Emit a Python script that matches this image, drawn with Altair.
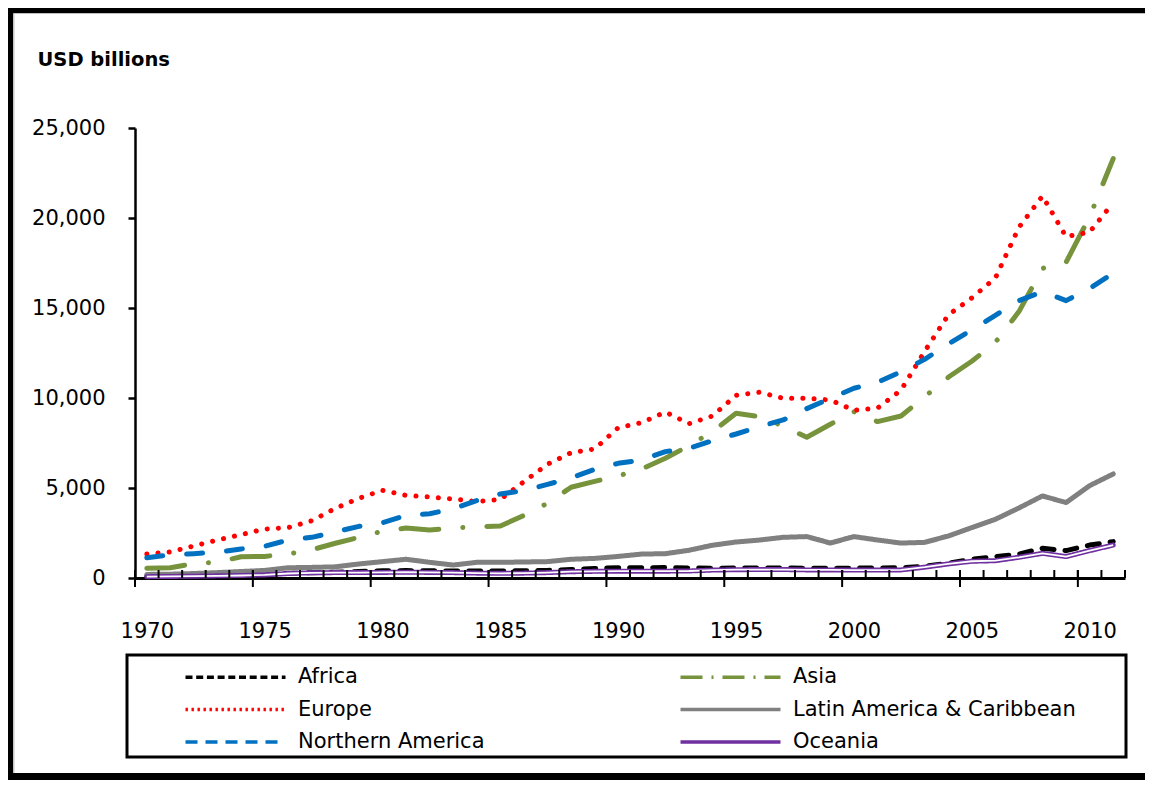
import altair as alt
import pandas as pd

years = list(range(1970, 2012))

africa = [100, 110, 130, 160, 200, 230, 260, 290, 320, 360, 400, 410, 400, 390, 390, 390,
          400, 420, 470, 530, 570, 570, 580, 560, 540, 560, 560, 560, 540, 540, 550, 550,
          570, 650, 815, 1040, 1190, 1330, 1650, 1520, 1830, 2020]
asia = [540, 570, 800, 880, 1180, 1200, 1330, 1570, 1930, 2260, 2600, 2780, 2670, 2780, 2850, 2890,
        3480, 4150, 5040, 5370, 5670, 6060, 6650, 7350, 8130, 9150, 8960, 8440, 7820, 8540, 9240, 8690,
        9000, 10070, 11150, 12040, 13090, 14800, 17200, 17540, 20070, 23300]
europe = [1330, 1450, 1780, 2110, 2410, 2720, 2800, 3180, 3870, 4430, 4870, 4590, 4500, 4390, 4240, 4370,
          5350, 6320, 6960, 7170, 8350, 8630, 9220, 8570, 9000, 10150, 10320, 9980, 9980, 9890, 9320, 9440,
          10440, 12590, 14610, 15560, 16670, 19480, 21220, 18960, 19220, 20850]
latin = [200, 210, 250, 300, 360, 420, 570, 590, 620, 780, 910, 1040, 870, 720, 870, 870,
         890, 910, 1040, 1090, 1200, 1330, 1350, 1540, 1820, 2000, 2110, 2260, 2300, 1940, 2300, 2110,
         1940, 1980, 2330, 2800, 3260, 3890, 4560, 4190, 5130, 5780]
north_america = [1130, 1280, 1350, 1440, 1610, 1760, 2110, 2260, 2560, 2870, 3070, 3480, 3570, 3850, 4300, 4670,
                 4850, 5200, 5560, 6040, 6370, 6560, 7020, 7200, 7630, 8000, 8410, 8780, 9410, 9980, 10540, 10870,
                 11460, 12150, 13000, 13780, 14590, 15410, 15910, 15410, 16090, 16930]
oceania = [75, 85, 100, 120, 140, 170, 250, 290, 300, 300, 310, 320, 310, 300, 270, 260,
           270, 300, 350, 370, 380, 380, 380, 390, 440, 460, 470, 470, 450, 450, 440, 440,
           450, 600, 780, 930, 960, 1150, 1370, 1190, 1520, 1830]

regions = ["Africa", "Asia", "Europe", "Latin America & Caribbean", "Northern America", "Oceania"]
series = [africa, asia, europe, latin, north_america, oceania]
colors = ["#000000", "#77933C", "#FF0000", "#808080", "#0070C0", "#7030A0"]
inner_colors = ["transparent", "transparent", "transparent", "transparent", "transparent", "white"]
dashes = [[12, 11], [38, 24, 0.1, 24], [0.1, 11.1], [1, 0], [16, 24], [1, 0]]
legend_dashes = [[7, 3.7], [22, 9, 2, 9], [2.4, 3.6], [1, 0], [12, 8], [1, 0]]

y_ticks = [0, 5000, 10000, 15000, 20000, 25000]
x_labels = [1970, 1975, 1980, 1985, 1990, 1995, 2000, 2005, 2010]

rows = []
for name, vals in zip(regions, series):
    for yr, v in zip(years, vals):
        rows.append({"year": yr, "region": name, "value": v})
df = pd.DataFrame(rows)
df["key"] = df["region"]
df["key2"] = df["region"]

minor_df = pd.DataFrame({"b": [y - 0.5 for y in years] + [years[-1] + 0.5]})
major_df = pd.DataFrame({"b": [y - 0.5 for y in x_labels]})
deco = pd.DataFrame({"k": [0]})

FONT = "DejaVu Sans"
x_scale = alt.Scale(domain=[1969.5, 2011.5], nice=False, zero=False)
y_scale = alt.Scale(domain=[0, 25000], nice=False)

x_axis = alt.Axis(values=x_labels, format="d", ticks=False, tickSize=0, labelPadding=42,
                  labelFontSize=21, labelFont=FONT, labelColor="black", domainColor="black",
                  domainWidth=3, grid=False, title=None, labelFlush=False)
y_axis = alt.Axis(values=y_ticks, labelExpr="datum.value == 0 ? '0' : (datum.value / 1000) + ',000'",
                  tickSize=7, tickWidth=2.5, tickColor="black",
                  domainColor="black", domainWidth=2.5, labelPadding=23, labelFontSize=21,
                  labelFont=FONT, labelColor="black", grid=False, title="USD billions",
                  titleAngle=0, titleX=-98, titleY=-63, titleAlign="left",
                  titleBaseline="alphabetic", titleFontWeight="bold", titleFontSize=19.5,
                  titleFont=FONT, titleColor="black")

common_legend = dict(title=None, orient="none", legendX=86, legendY=534.5, columns=2,
                     direction="horizontal", columnPadding=188, rowPadding=7.5, padding=0,
                     symbolType="M-4,0H4", symbolSize=625, labelFont=FONT, labelFontSize=21,
                     labelLimit=400, labelOffset=48)
legend_main = alt.Legend(symbolStrokeWidth=3.3, labelColor="black", zindex=1, **common_legend)
legend_inner = alt.Legend(symbolStrokeWidth=1.4, labelColor="black", labelOpacity=0, zindex=2,
                          **common_legend)

# frame: left, top and bottom edges (the right edge lies beyond the picture)
frame_left = alt.Chart(deco).mark_rule(color="black", strokeWidth=8.5).encode(
    x=alt.value(-126), y=alt.value(-123.25), y2=alt.value(652))
frame_top = alt.Chart(deco).mark_rule(color="black", strokeWidth=8.5).encode(
    x=alt.value(-130.25), x2=alt.value(1010), y=alt.value(-119))
frame_bottom = alt.Chart(deco).mark_rule(color="black", strokeWidth=7).encode(
    x=alt.value(-130.25), x2=alt.value(1010), y=alt.value(648.5))
inner_left = alt.Chart(deco).mark_rule(color="#c8c8c8", strokeWidth=1).encode(
    x=alt.value(-121), y=alt.value(-114.5), y2=alt.value(645))
box = alt.Chart(deco).mark_rect(fill="transparent", stroke="black", strokeWidth=3).encode(
    x=alt.value(-8), x2=alt.value(991), y=alt.value(527), y2=alt.value(629))

lines = alt.Chart(df).mark_line(strokeWidth=5, strokeCap="round", strokeJoin="round").encode(
    x=alt.X("year:Q", scale=x_scale, axis=x_axis),
    y=alt.Y("value:Q", scale=y_scale, axis=y_axis),
    color=alt.Color("region:N", scale=alt.Scale(domain=regions, range=colors), legend=None),
    strokeDash=alt.StrokeDash("region:N", scale=alt.Scale(domain=regions, range=dashes), legend=None),
)

oce_inner = alt.Chart(df).transform_filter(alt.datum.region == "Oceania").mark_line(
    color="white", strokeWidth=1.8, strokeJoin="round").encode(
    x=alt.X("year:Q", scale=x_scale, axis=x_axis),
    y=alt.Y("value:Q", scale=y_scale, axis=y_axis),
)

# legend-only layers (no data drawn; legends come from the scales)
leg_main = alt.Chart(df).transform_filter("false").mark_line().encode(
    x=alt.X("year:Q", scale=x_scale, axis=x_axis),
    y=alt.Y("value:Q", scale=y_scale, axis=y_axis),
    color=alt.Color("key:N", scale=alt.Scale(domain=regions, range=colors), legend=legend_main),
    strokeDash=alt.StrokeDash("key:N", scale=alt.Scale(domain=regions, range=legend_dashes),
                              legend=legend_main),
)
leg_inner = alt.Chart(df).transform_filter("false").mark_line().encode(
    x=alt.X("year:Q", scale=x_scale, axis=x_axis),
    y=alt.Y("value:Q", scale=y_scale, axis=y_axis),
    color=alt.Color("key2:N", scale=alt.Scale(domain=regions, range=inner_colors), legend=legend_inner),
)

minor = alt.Chart(minor_df).mark_rule(color="black", strokeWidth=2).encode(
    x=alt.X("b:Q", scale=x_scale, axis=x_axis), y=alt.value(442), y2=alt.value(450))
major = alt.Chart(major_df).mark_rule(color="black", strokeWidth=2).encode(
    x=alt.X("b:Q", scale=x_scale, axis=x_axis), y=alt.value(442), y2=alt.value(459))

chart = alt.layer(frame_left, frame_top, frame_bottom, inner_left, box, lines, oce_inner,
                  leg_main, leg_inner, minor, major).resolve_scale(
    color="independent", strokeDash="independent"
).properties(
    width=990, height=450, autosize="none",
    padding={"left": 127, "top": 120, "right": 20, "bottom": 202},
    background="white",
).configure_view(stroke="transparent")

chart.save("out.html", embed_options={"renderer": "svg", "actions": False})
